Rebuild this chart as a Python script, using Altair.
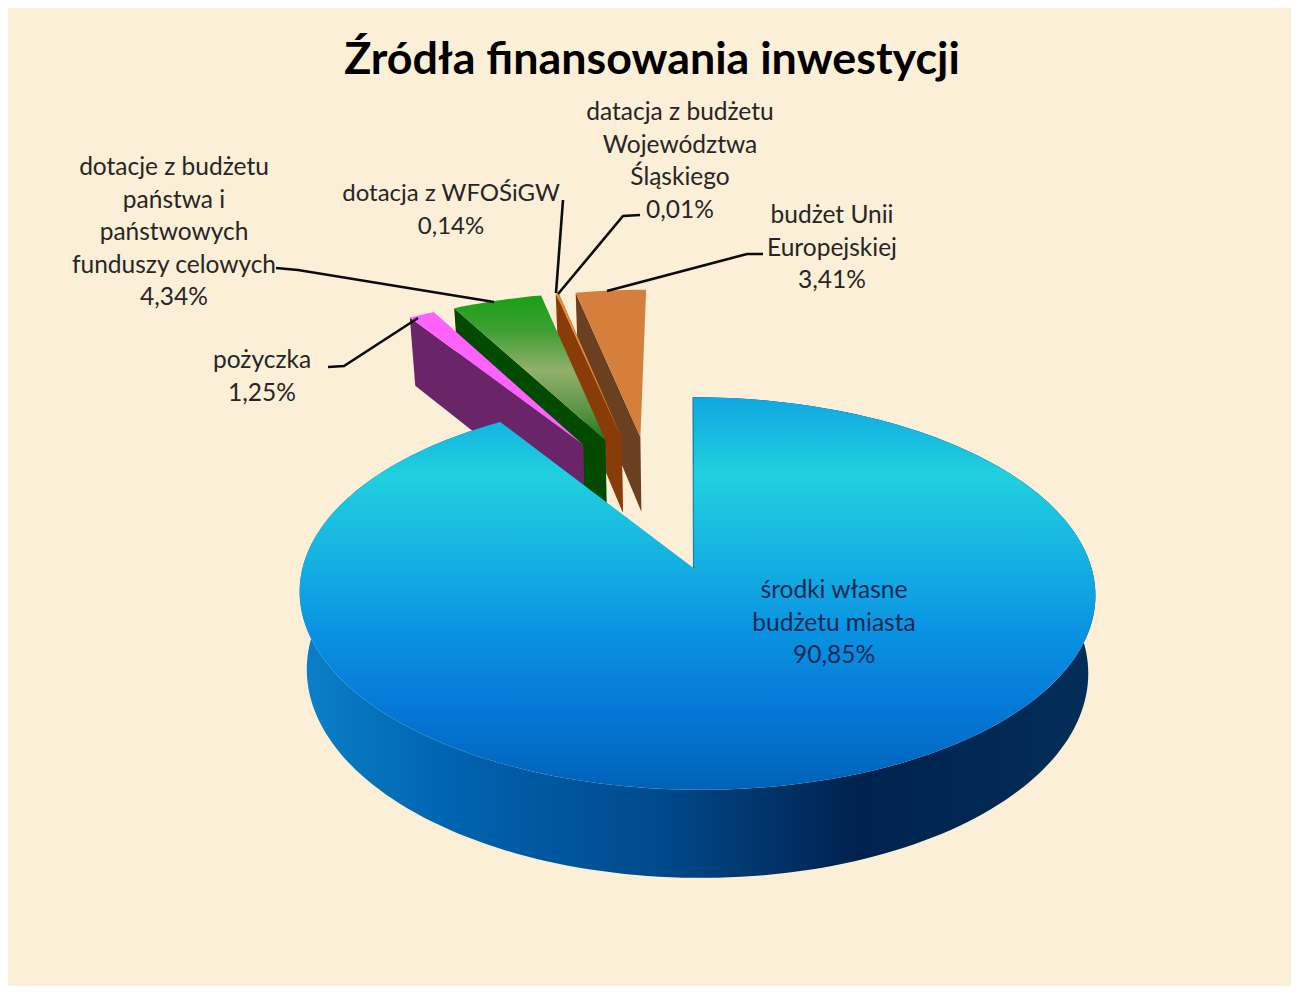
import numpy as np
import pandas as pd
import altair as alt

# --- data ---
SHARES = [90.85, 1.25, 4.34, 0.14, 0.01, 3.41]
TITLE = "Źródła finansowania inwestycji"
LABELS = [
    ["środki własne", "budżetu miasta", "90,85%"],
    ["pożyczka", "1,25%"],
    ["dotacje z budżetu", "państwa i", "państwowych", "funduszy celowych", "4,34%"],
    ["dotacja z WFOŚiGW", "0,14%"],
    ["datacja z budżetu", "Województwa", "Śląskiego", "0,01%"],
    ["budżet Unii", "Europejskiej", "3,41%"],
]

# --- layout (page pixels) ---
W, H = 1283, 978
PAGE = 8
CX, CY, A, B, K, T = 693.5, 568.0, 394.5, 193.0, 0.13, 76.6
EXPLODE = [None, (-0.305, 0.697), (-0.2447, 0.7256), (-0.2, 0.74), (-0.2, 0.74), (-0.1477, 0.744)]
SMALL_R, SMALL_H = 1.03, 1.07
LABEL_POS = [(834, 591), (262, 361), (174, 168), (451, 194), (680, 113), (832, 216)]
LABEL_SIZE = [24.5, 24.5, 24.5, 24, 24.5, 24.5]
LINE_STEP = 32.6
LEADERS = [
    [(328, 367), (344, 366), (418, 318)],
    [(276, 268), (298, 270), (494, 302)],
    [(563, 200), (556, 293)],
    [(640, 215), (623, 216), (558, 294)],
    [(763, 254), (747, 254), (607, 291)],
]
BG = "#FBEFD7"
TOP_FILL = ["#FF62FF", None, "#E58B3D", "#E58B3D", "#D4803C"]
WALL_FILL = ["#6A2468", "#014A00", "#8A3C08", "#8A3C08", "#6B4020"]


def grad(stops, vertical=True):
    return alt.Gradient(
        gradient="linear",
        x1=0, y1=0,
        x2=0 if vertical else 1,
        y2=1 if vertical else 0,
        stops=[alt.GradientStop(color=c, offset=o) for o, c in stops],
    )


GREEN_TOP = grad([(0, "#17A017"), (0.25, "#3FA032"), (0.52, "#93B06B"), (0.78, "#5F9548"), (1, "#1F7A1F")])
MAIN_TOP = grad([(0, "#10A8E2"), (0.2, "#20D0DE"), (0.42, "#15B0E2"), (0.6, "#0A92E2"),
                 (0.8, "#0578D6"), (1, "#0062B8")])
MAIN_SIDE = grad([(0, "#0A80C8"), (0.2, "#0062AE"), (0.45, "#004A8C"), (0.7, "#00224E"),
                  (1, "#032E58")], vertical=False)

xs = alt.Scale(domain=[PAGE, PAGE + W], nice=False, zero=False)
ys = alt.Scale(domain=[PAGE, PAGE + H], nice=False, zero=False, reverse=True)
X = alt.X("x:Q", scale=xs, axis=None)
Y = alt.Y("y:Q", scale=ys, axis=None)


def project(gx, gz, h=0.0, shift=False):
    f = 1 / (1 + K * gz)
    s = 1 - 0.018 * h
    px = CX + A * gx * f * s
    py = CY - B * gz * f + T * h * f
    if shift:
        px = px + 3.5 - 4 * gz
    return float(px), float(py)


def poly(points, fill):
    df = pd.DataFrame([{"x": p[0], "y": p[1], "i": i} for i, p in enumerate(points)])
    return alt.Chart(df).mark_line(fill=fill, stroke="transparent", strokeWidth=0).encode(
        x=X, y=Y, order=alt.Order("i:Q"))


def arc(t0, t1, dx=0.0, dz=0.0, h=0.0, shift=False, r=1.0):
    n = max(3, int((t1 - t0) / 1.5))
    th = np.radians(np.linspace(t0, t1, n))
    return [project(dx + r * np.sin(t), dz + r * np.cos(t), h, shift) for t in th]


# cumulative angles, clockwise from 12 o'clock
angles = np.cumsum([0] + [s * 3.6 for s in SHARES])

layers = []
# small slices, back to front
for idx in [5, 4, 3, 2, 1]:
    a0, a1 = angles[idx], angles[idx + 1]
    dx, dz = EXPLODE[idx]
    top_arc = arc(a0, a1, dx, dz, r=SMALL_R)
    apex = project(dx, dz)
    apex_b = project(dx, dz, SMALL_H)
    ox, oz = dx + SMALL_R * np.sin(np.radians(a0)), dz + SMALL_R * np.cos(np.radians(a0))
    fill_top = GREEN_TOP if idx == 2 else TOP_FILL[idx - 1]
    layers.append(poly([project(ox, oz), apex, apex_b, project(ox, oz, SMALL_H)], WALL_FILL[idx - 1]))
    layers.append(poly([apex] + top_arc, fill_top))

# main slice
end = angles[1]
upper = arc(0, end, shift=True)
lower = arc(0, end, h=1, shift=True)
layers.append(poly(upper + lower[::-1], MAIN_SIDE))
layers.append(poly([project(0, 0)] + upper, MAIN_TOP))
edge = pd.DataFrame([{"x": p[0], "y": p[1], "i": i} for i, p in enumerate([project(0, 0), upper[0]])])
layers.append(alt.Chart(edge).mark_line(stroke="#0C6C96", strokeWidth=1.2, opacity=0.8).encode(
    x=X, y=Y, order=alt.Order("i:Q")))

# leader lines
rows = [{"x": p[0], "y": p[1], "i": i, "k": k} for k, line in enumerate(LEADERS) for i, p in enumerate(line)]
layers.append(alt.Chart(pd.DataFrame(rows)).mark_line(stroke="#0B0B0B", strokeWidth=2.6).encode(
    x=X, y=Y, order=alt.Order("i:Q"), detail="k:N"))

# data labels
rows = []
for n, (lab, (lx, ly), size) in enumerate(zip(LABELS, LABEL_POS, LABEL_SIZE)):
    for j, text in enumerate(lab):
        rows.append({"x": lx, "y": ly + j * LINE_STEP, "t": text, "s": size,
                     "c": "#0A2A55" if n == 0 else "#262626"})
layers.append(alt.Chart(pd.DataFrame(rows)).mark_text(
    font="Lato", align="center", baseline="middle").encode(
    x=X, y=Y, text="t:N", color=alt.Color("c:N", scale=None),
    size=alt.Size("s:Q", scale=None)))

# title
layers.append(alt.Chart(pd.DataFrame([{"x": 652, "y": 61, "t": TITLE}])).mark_text(
    font="Lato", fontSize=44.8, fontWeight="bold", align="center", baseline="middle", color="#000000").encode(
    x=X, y=Y, text="t:N"))

chart = alt.layer(*layers).properties(
    width=W, height=H, background=BG, padding=0,
    autosize=alt.AutoSizeParams(type="none"),
).configure_view(stroke=None)

chart.save("out.html", embed_options={"renderer": "svg", "actions": False})
